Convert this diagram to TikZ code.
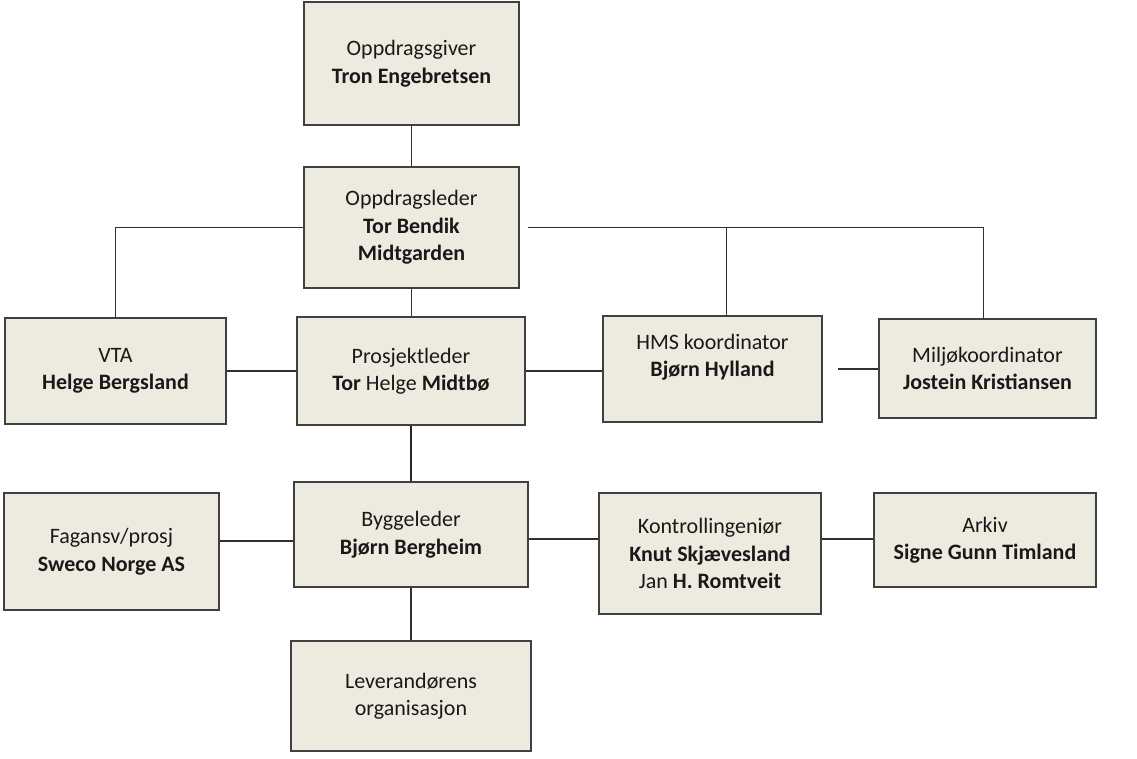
\documentclass[tikz,border=0pt]{standalone}
\usepackage{fontspec}
\setmainfont{Carlito}
\usetikzlibrary{calc}
\definecolor{boxfill}{HTML}{EDEBE0}
\definecolor{boxline}{HTML}{404040}
\definecolor{conline}{HTML}{303030}
\tikzset{
  orgbox/.style={draw=boxline, fill=boxfill, line width=1.5pt, inner sep=0pt,
    align=center, font=\fontsize{22}{27.5}\selectfont, text=black!90},
  boxtext/.style={inner sep=0pt, align=center, font=\fontsize{22}{27.5}\selectfont, text=black!90},
  conn/.style={draw=conline, line width=1.6pt},
  thickconn/.style={draw=conline!80!black, line width=2.2pt}
}
\begin{document}
\begin{tikzpicture}[x=1pt, y=-1pt]
\useasboundingbox (0,0) rectangle (1137,758);

\node[orgbox, minimum width=215pt, minimum height=123pt] (giver) at (411.5,63.5)
  {Oppdragsgiver\\\textbf{Tron Engebretsen}};
\node[orgbox, minimum width=215pt, minimum height=121pt] (leder) at (411.5,227.5)
  {Oppdragsleder\\\textbf{Tor Bendik}\\\textbf{Midtgarden}};
\node[orgbox, minimum width=221pt, minimum height=106pt] (vta) at (115.5,371)
  {VTA\\\textbf{Helge Bergsland}};
\node[orgbox, minimum width=228pt, minimum height=108pt] (prosj) at (411,371)
  {Prosjektleder\\\textbf{Tor} Helge \textbf{Midtbø}};
\node[orgbox, minimum width=219pt, minimum height=106pt] (hms) at (712.5,369) {};
\node[boxtext] (hmstext) at ([yshift=12pt]hms.center)
  {HMS koordinator\\\textbf{Bjørn Hylland}};
\node[orgbox, minimum width=217pt, minimum height=99pt] (milj) at (987.5,368.5)
  {Miljøkoordinator\\\textbf{Jostein Kristiansen}};
\node[orgbox, minimum width=215pt, minimum height=117pt] (fag) at (111.5,551.5)
  {Fagansv/prosj\\\textbf{Sweco Norge AS}};
\node[orgbox, minimum width=234pt, minimum height=105pt] (bygg) at (411,534.5)
  {Byggeleder\\\textbf{Bjørn Bergheim}};
\node[orgbox, minimum width=222pt, minimum height=121pt] (kontr) at (710,553.5)
  {Kontrollingeniør\\\textbf{Knut Skjævesland}\\Jan \textbf{H. Romtveit}};
\node[orgbox, minimum width=222pt, minimum height=94pt] (ark) at (985,540)
  {Arkiv\\\textbf{Signe Gunn Timland}};
\node[orgbox, minimum width=240pt, minimum height=110pt] (lev) at (411,696)
  {Leverandørens\\organisasjon};

% connectors
\draw[conn] (giver.south) -- (leder.north);
\draw[conn] (vta.north) |- (leder.west);
\draw[conn] (leder.south) -- (leder.south |- prosj.north);
\coordinate (rs) at ([xshift=8pt]leder.east);
\coordinate (mtop) at ([xshift=-4pt]milj.north);
\draw[conn] (rs) -| (mtop);
\coordinate (htop) at ([xshift=14pt]hms.north);
\draw[conn] (htop) -- (htop |- rs);
\draw[conn] (vta.east) -- (prosj.west);
\draw[conn] (prosj.east) -- (prosj.east -| hms.west);
\coordinate (hg) at ([xshift=15pt]hms.east);
\draw[conn] (hg) -- (hg -| milj.west);
\draw[thickconn] (prosj.south) -- (prosj.south |- bygg.north);
\draw[conn] ([yshift=10.5pt]fag.east) -- ([yshift=10.5pt]fag.east -| bygg.west);
\draw[conn] ([yshift=-4.5pt]bygg.east) -- ([yshift=-4.5pt]bygg.east -| kontr.west);
\draw[conn] ([yshift=14.5pt]kontr.east) -- ([yshift=14.5pt]kontr.east -| ark.west);
\draw[conn] (bygg.south) -- (bygg.south |- lev.north);
\end{tikzpicture}
\end{document}
